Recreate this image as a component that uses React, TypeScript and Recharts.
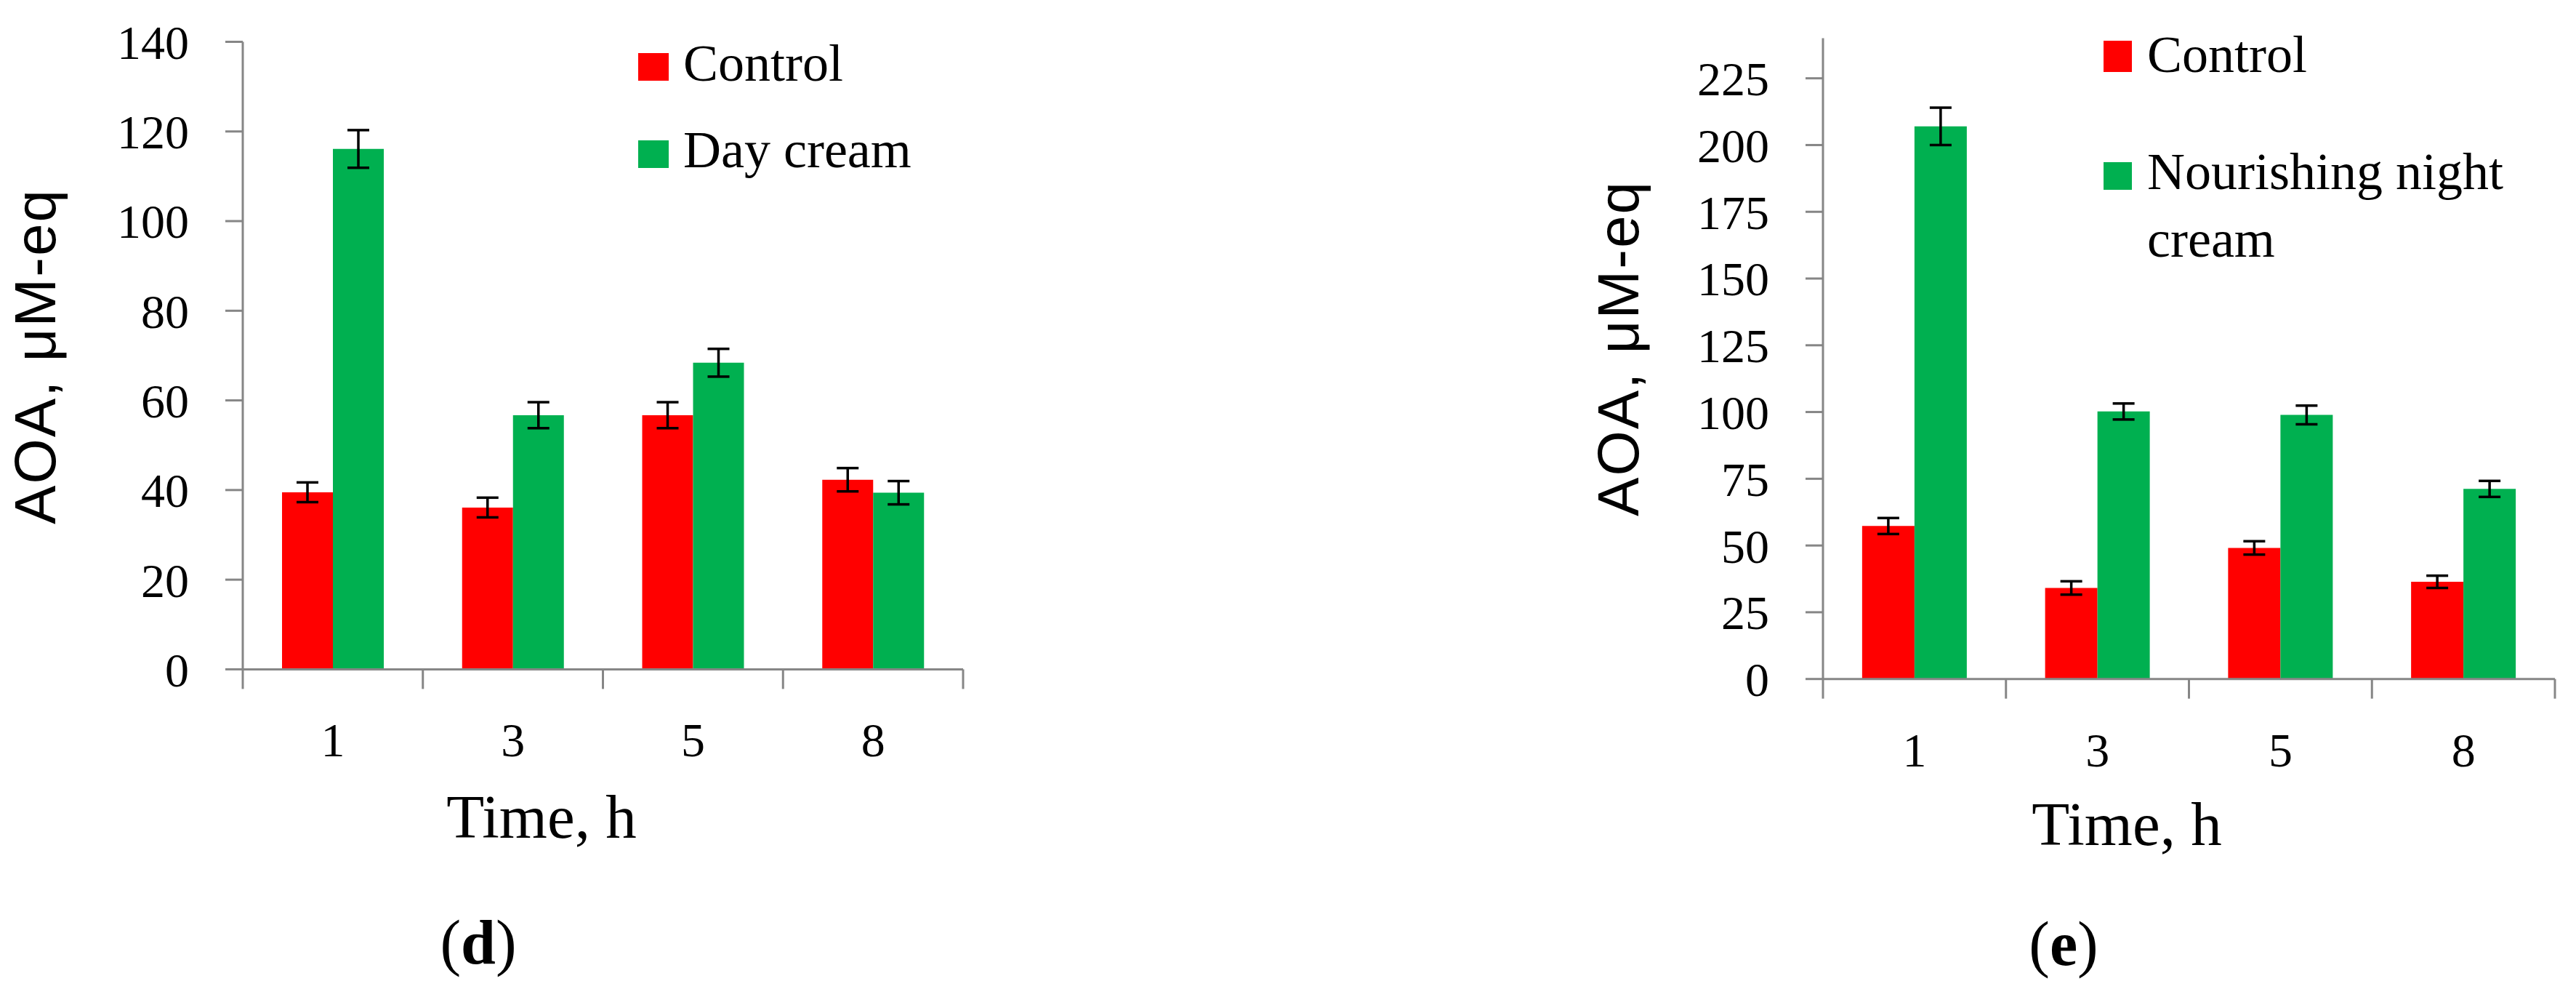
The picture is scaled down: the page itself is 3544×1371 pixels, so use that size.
import React from 'react';
import { BarChart, Bar, XAxis, YAxis, ErrorBar, Legend } from 'recharts';

// ---------- data ----------
const times = ['1', '3', '5', '8'];

const dayControl = [39.5, 36.1, 56.7, 42.3];
const dayControlErr = [2.2, 2.2, 2.9, 2.6];
const dayCream = [116.1, 56.7, 68.4, 39.4];
const dayCreamErr = [4.2, 2.9, 3.1, 2.6];

const nightControl = [57.3, 34.1, 49.1, 36.4];
const nightControlErr = [3.0, 2.5, 2.5, 2.3];
const nightCream = [207.0, 100.2, 98.9, 71.2];
const nightCreamErr = [7.0, 3.0, 3.5, 3.0];

const dayTicks = [0, 20, 40, 60, 80, 100, 120, 140];
const nightTicks = [0, 25, 50, 75, 100, 125, 150, 175, 200, 225];

const yTitle = 'AOA, \u03bcM-eq';
const xTitle = 'Time, h';

// ---------- styles ----------
const RED = '#FF0000';
const GREEN = '#00B050';
const AXIS = '#868686';
const SERIF = '"Liberation Serif", "Times New Roman", serif';
const SANS = '"Liberation Sans", Arial, sans-serif';

type PanelProps = {
  left: number;
  width: number;
  height: number;
  margin: { top: number; right: number; left: number; bottom: number };
  yAxisWidth: number;
  xAxisHeight: number;
  domainMax: number;
  ticks: number[];
  control: number[];
  controlErr: number[];
  cream: number[];
  creamErr: number[];
  creamName: string;
  gap: string;
  legend: React.ReactNode;
  legendBox: { left: number; top: number; width: number; height: number };
  yTitlePos: { x: number; y: number };
  xTitlePos: { x: number; y: number };
};

function Panel(p: PanelProps) {
  const data = times.map((t, i) => ({
    time: t,
    control: p.control[i],
    controlErr: p.controlErr[i],
    cream: p.cream[i],
    creamErr: p.creamErr[i],
  }));
  const plotWidth = p.width - p.margin.left - p.margin.right - p.yAxisWidth;
  const bw = plotWidth / times.length;

  const XTick = (props: any) => {
    const { x, y, payload, index } = props;
    return (
      <g>
        <line x1={x - bw / 2} x2={x - bw / 2} y1={y} y2={y + 27} stroke={AXIS} strokeWidth={3} />
        {index === times.length - 1 && (
          <line x1={x + bw / 2} x2={x + bw / 2} y1={y} y2={y + 27} stroke={AXIS} strokeWidth={3} />
        )}
        <text x={x} y={y + 120} textAnchor="middle" fontFamily={SERIF} fontSize={66} fill="#000">
          {payload.value}
        </text>
      </g>
    );
  };

  const YTitle = () => (
    <text
      x={p.yTitlePos.x}
      y={p.yTitlePos.y}
      transform={`rotate(-90 ${p.yTitlePos.x} ${p.yTitlePos.y})`}
      textAnchor="middle"
      fontFamily={SANS}
      fontSize={80}
      letterSpacing={2}
      fill="#000"
    >
      {yTitle}
    </text>
  );

  const XTitle = () => (
    <text x={p.xTitlePos.x} y={p.xTitlePos.y} textAnchor="middle" fontFamily={SERIF} fontSize={85} fill="#000">
      {xTitle}
    </text>
  );

  return (
    <div style={{ position: 'absolute', left: p.left, top: 0, width: p.width, height: p.height }}>
      <BarChart
        width={p.width}
        height={p.height}
        data={data}
        margin={p.margin}
        barCategoryGap={p.gap}
        barGap={0}
      >
        <XAxis
          dataKey="time"
          height={p.xAxisHeight}
          tickSize={0}
          tickMargin={0}
          tickLine={false}
          axisLine={{ stroke: AXIS, strokeWidth: 3 }}
          tick={<XTick />}
          interval={0}
          label={{ content: XTitle } as any}
        />
        <YAxis
          width={p.yAxisWidth}
          domain={[0, p.domainMax]}
          ticks={p.ticks}
          interval={0}
          tickSize={24}
          tickMargin={50}
          tickLine={{ stroke: AXIS, strokeWidth: 3 }}
          axisLine={{ stroke: AXIS, strokeWidth: 3 }}
          tick={{ fontFamily: SERIF, fontSize: 66, fill: '#000' }}
          label={{ content: YTitle } as any}
        />
        <Legend
          layout="vertical"
          align="center"
          verticalAlign="middle"
          content={() => p.legend}
          wrapperStyle={{
            position: 'absolute',
            left: p.legendBox.left,
            top: p.legendBox.top,
            width: p.legendBox.width,
            height: p.legendBox.height,
          }}
        />
        <Bar dataKey="control" name="Control" fill={RED} isAnimationActive={false}>
          <ErrorBar dataKey="controlErr" width={15} strokeWidth={3.5} stroke="#000" />
        </Bar>
        <Bar dataKey="cream" name={p.creamName} fill={GREEN} isAnimationActive={false}>
          <ErrorBar dataKey="creamErr" width={15} strokeWidth={3.5} stroke="#000" />
        </Bar>
      </BarChart>
    </div>
  );
}

const dayLegend = (
  <svg width={450} height={220}>
    <rect x={8} y={33} width={42} height={38} fill={RED} />
    <text x={70} y={71} fontFamily={SERIF} fontSize={72} fill="#000">Control</text>
    <rect x={8} y={153} width={42} height={38} fill={GREEN} />
    <text x={70} y={190} fontFamily={SERIF} fontSize={72} fill="#000">Day cream</text>
  </svg>
);

const nightLegend = (
  <svg width={660} height={350}>
    <rect x={14} y={26} width={39} height={43} fill={RED} />
    <text x={74} y={69} fontFamily={SERIF} fontSize={72} fill="#000">Control</text>
    <rect x={14} y={193} width={39} height={38} fill={GREEN} />
    <text x={74} y={230} fontFamily={SERIF} fontSize={72} fill="#000">Nourishing night</text>
    <text x={74} y={323} fontFamily={SERIF} fontSize={72} fill="#000">cream</text>
  </svg>
);

export default function App() {
  return (
    <div style={{ position: 'absolute', left: 0, top: 0, width: 3544, height: 1371, background: '#fff', overflow: 'hidden' }}>
      <Panel
        left={0}
        width={1400}
        height={1371}
        margin={{ top: 57.5, right: 75, left: 234, bottom: 300.6 }}
        yAxisWidth={100}
        xAxisHeight={150}
        domainMax={140}
        ticks={dayTicks}
        control={dayControl}
        controlErr={dayControlErr}
        cream={dayCream}
        creamErr={dayCreamErr}
        creamName="Day cream"
        gap="21.8%"
        legend={dayLegend}
        legendBox={{ left: 870, top: 40, width: 450, height: 220 }}
        yTitlePos={{ x: 76, y: 490 }}
        xTitlePos={{ x: 745, y: 1152 }}
      />
      <Panel
        left={2100}
        width={1444}
        height={1371}
        margin={{ top: 52.6, right: 29, left: 308, bottom: 287.3 }}
        yAxisWidth={100}
        xAxisHeight={150}
        domainMax={240}
        ticks={nightTicks}
        control={nightControl}
        controlErr={nightControlErr}
        cream={nightCream}
        creamErr={nightCreamErr}
        creamName="Nourishing night cream"
        gap="21.4%"
        legend={nightLegend}
        legendBox={{ left: 780, top: 30, width: 660, height: 350 }}
        yTitlePos={{ x: 154, y: 479 }}
        xTitlePos={{ x: 826, y: 1162 }}
      />
      <svg style={{ position: 'absolute', left: 0, top: 0 }} width={3544} height={1371} pointerEvents="none">
        <text x={658} y={1325} textAnchor="middle" fontFamily={SERIF} fontSize={86} fill="#000">
          (<tspan fontWeight="bold">d</tspan>)
        </text>
        <text x={2839} y={1327} textAnchor="middle" fontFamily={SERIF} fontSize={86} fill="#000">
          (<tspan fontWeight="bold">e</tspan>)
        </text>
      </svg>
    </div>
  );
}
